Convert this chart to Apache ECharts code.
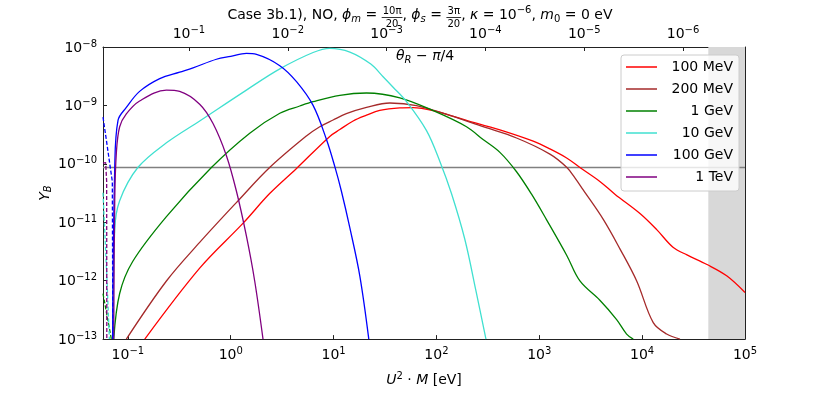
<!DOCTYPE html>
<html>
<head>
    <meta charset="utf-8">
    <title>Case 3b.1) Y_B</title>
    <script src="https://cdn.jsdelivr.net/npm/echarts@6/dist/echarts.min.js"></script>
    <style>
        html, body { margin: 0; padding: 0; background: #fff; }
    </style>
</head>
<body>
    <div id="main" style="width: 831px;height:394px;"></div>
    <script type="text/javascript">
        var F = '"DejaVu Sans", sans-serif';

        // legend names
        var names = ['100 MeV', '200 MeV', '1 GeV', '10 GeV', '100 GeV', '1 TeV'];
        var colors = ['#ff0000', '#a52a2a', '#008000', '#40e0d0', '#0000ff', '#800080'];

        // U^2 M [eV]  vs  Y_B
        var mev100X = [0.146, 0.499, 1.32, 2.39, 4.36, 9.18, 11.5, 15.5, 20.9, 28.1, 44.1, 59.3, 92.9, 196, 414, 873, 1268, 1845, 2483, 3881, 5433, 9527, 13930, 19950, 27290, 42690, 66830, 100000];
        var mev100Y = [1e-13, 1.64e-12, 9.66e-12, 3.1e-11, 8.34e-11, 2.95e-10, 3.86e-10, 5.42e-10, 6.81e-10, 8.24e-10, 9.1e-10, 9.2e-10, 8.14e-10, 5.57e-10, 3.81e-10, 2.44e-10, 1.8e-10, 1.26e-10, 8.65e-11, 5.0e-11, 3.02e-11, 1.41e-11, 7.41e-12, 3.74e-12, 2.76e-12, 1.89e-12, 1.2e-12, 6.27e-13];

        var mev200X = [0.0966, 0.237, 0.499, 1.18, 2.39, 5.44, 7.34, 9.89, 13.3, 20.9, 35.2, 64.0, 135, 284, 601, 1268, 1845, 2220, 2673, 4188, 6081, 8851, 12820, 17310, 23330];
        var mev200Y = [1e-13, 9.88e-13, 4.52e-12, 2.34e-11, 8.65e-11, 3.0e-10, 4.32e-10, 5.63e-10, 7.21e-10, 9.23e-10, 1.1e-9, 9.95e-10, 6.73e-10, 4.32e-10, 2.77e-10, 1.47e-10, 8.75e-11, 5.77e-11, 3.58e-11, 1.12e-11, 3.51e-12, 9.88e-13, 1.91e-13, 1.22e-13, 1e-13];

        var gev1X = [0.0728, 0.0832, 0.111, 0.237, 0.649, 1.53, 3.0, 4.69, 6.32, 11.5, 20.9, 44.1, 92.9, 196, 284, 414, 601, 841, 1178, 1845, 2483, 3881, 5649, 7063, 8188];
        var gev1Y = [1e-13, 6.04e-13, 2.11e-12, 1.25e-11, 8.65e-11, 3.35e-10, 7.35e-10, 9.77e-10, 1.16e-9, 1.49e-9, 1.63e-9, 1.35e-9, 8.14e-10, 4.32e-10, 2.61e-10, 1.57e-10, 7.32e-11, 3.02e-11, 1.1e-11, 2.73e-12, 9.88e-13, 4.62e-13, 2.16e-13, 1.22e-13, 1e-13];

        var gev10X = [0.0718, 0.0745, 0.0832, 0.125, 0.237, 0.499, 1.42, 3.0, 6.32, 9.18, 14.4, 23.0, 30.3, 37.9, 51.2, 80.1, 108, 140, 189, 242, 303];
        var gev10Y = [1e-13, 7.5e-12, 2.34e-11, 8.65e-11, 2.29e-10, 5.42e-10, 1.83e-9, 4.22e-9, 8.05e-9, 9.5e-9, 8.2e-9, 5.1e-9, 3.1e-9, 2.05e-9, 1.16e-9, 3.7e-10, 1.1e-10, 3.1e-11, 5.07e-12, 6.76e-13, 1e-13];

        var gev100X = [0.0711, 0.0745, 0.0802, 0.0966, 0.130, 0.204, 0.319, 0.43, 0.726, 1.0, 1.42, 1.78, 3.0, 4.36, 6.32, 8.53, 10.3, 11.9, 14.4, 18.0, 22.0];
        var gev100Y = [1e-13, 8.43e-11, 5.57e-10, 9.23e-10, 1.74e-9, 2.88e-9, 3.72e-9, 4.4e-9, 6.17e-9, 6.9e-9, 7.75e-9, 7.46e-9, 4.79e-9, 2.55e-9, 1.0e-9, 2.61e-10, 8.85e-11, 3.43e-11, 8e-12, 1.2e-12, 1e-13];

        var tev1X = [0.0728, 0.0745, 0.0773, 0.0832, 0.0966, 0.130, 0.237, 0.319, 0.499, 0.673, 0.908, 1.135, 1.42, 1.71, 2.06];
        var tev1Y = [1e-13, 2.34e-11, 1.57e-10, 4.32e-10, 7.16e-10, 1.19e-9, 1.83e-9, 1.74e-9, 1.05e-9, 4.9e-10, 1.38e-10, 3.43e-11, 5.83e-12, 9.88e-13, 1e-13];

        // dashed branches at the left edge
        var gev100DashX = [0.0573, 0.0622, 0.0665, 0.0706, 0.0714];
        var gev100DashY = [6.3e-10, 2.36e-10, 1.03e-10, 5e-11, 1e-13];
        var tev1DashX = [0.0573, 0.0608, 0.0622, 0.0624];
        var tev1DashY = [1.03e-10, 1.05e-10, 5e-11, 1e-13];
        var gev10DashX = [0.0573, 0.0622, 0.0661];
        var gev10DashY = [3.2e-11, 1.4e-12, 1e-13];
        var gev1DashX = [0.0573, 0.0691];
        var gev1DashY = [6e-13, 1e-13];

        // reference lines / ranges
        var observedYB = 8.65e-11;
        var shadeFrom = 4.4e4, shadeTo = 1e5;
        var xMin = 0.0573, xMax = 1e5;
        var yMin = 1e-13, yMax = 1e-8;
        var thetaMin = 2.36e-7, thetaMax = 0.741;

        function zip(xs, ys) {
            return xs.map(function (x, i) { return [x, ys[i]]; });
        }

        function powLabel(v) {
            var l = Math.log10(v);
            var e = Math.round(l);
            if (Math.abs(l - e) > 1e-6) return '';
            return '{b|10}{sup|' + (e < 0 ? '\u2212' + (-e) : e) + '}';
        }
        var powRich = {
            b: { fontSize: 14, fontFamily: F, color: '#000', lineHeight: 16, verticalAlign: 'bottom' },
            sup: { fontSize: 10, fontFamily: F, color: '#000', lineHeight: 10, verticalAlign: 'top', padding: [0, 0, 10, 0] }
        };

        // inline math-like text made of several pieces
        var measureCtx = document.createElement('canvas').getContext('2d');
        function textW(t, size, italic) {
            measureCtx.font = (italic ? 'italic ' : '') + size + 'px "DejaVu Sans"';
            return measureCtx.measureText(t).width;
        }
        function inlineText(pieces, x0, yMid, center) {
            var widths = pieces.map(function (p) {
                if (p.frac) return Math.max(textW(p.frac[0], 10), textW(p.frac[1], 10)) + 2;
                return textW(p.t, p.s || 14, p.i);
            });
            var total = widths.reduce(function (a, b) { return a + b; }, 0);
            var x = center ? x0 - total / 2 : x0;
            var els = [];
            pieces.forEach(function (p, k) {
                var w = widths[k];
                if (p.frac) {
                    els.push({ type: 'text', x: x + w / 2, y: yMid - 4, style: { text: p.frac[0], font: '10px ' + F, fill: '#000', align: 'center', verticalAlign: 'middle' } });
                    els.push({ type: 'text', x: x + w / 2, y: yMid + 9, style: { text: p.frac[1], font: '10px ' + F, fill: '#000', align: 'center', verticalAlign: 'middle' } });
                    els.push({ type: 'line', shape: { x1: x, y1: yMid + 2.5, x2: x + w, y2: yMid + 2.5 }, style: { stroke: '#000', lineWidth: 0.8 } });
                } else {
                    els.push({ type: 'text', x: x, y: yMid + (p.dy || 0), style: { text: p.t, font: (p.i ? 'italic ' : '') + (p.s || 14) + 'px ' + F, fill: '#000', align: 'left', verticalAlign: 'middle' } });
                }
                x += w;
            });
            return els;
        }

        var titlePieces = [
            { t: 'Case 3b.1), NO, ' }, { t: '\u03d5', i: true }, { t: 'm', s: 10, i: true, dy: 4 }, { t: ' = ' },
            { frac: ['10\u03c0', '20'] }, { t: ', ' }, { t: '\u03d5', i: true }, { t: 's', s: 10, i: true, dy: 4 }, { t: ' = ' },
            { frac: ['3\u03c0', '20'] }, { t: ', ' }, { t: '\u03ba', i: true }, { t: ' = 10' }, { t: '\u22126', s: 10, dy: -5 },
            { t: ', ' }, { t: 'm', i: true }, { t: '0', s: 10, dy: 4 }, { t: ' = 0 eV' }
        ];
        var thetaPieces = [
            { t: '\u03b8', i: true }, { t: 'R', s: 10, i: true, dy: 4 }, { t: ' \u2212 ' }, { t: '\u03c0', i: true }, { t: '/4' }
        ];

        var axisLineStyle = { color: '#222', width: 1 };

        var solidSets = [
            [mev100X, mev100Y], [mev200X, mev200Y], [gev1X, gev1Y],
            [gev10X, gev10Y], [gev100X, gev100Y], [tev1X, tev1Y]
        ];
        var series = solidSets.map(function (s, k) {
            return {
                name: names[k], type: 'line', data: zip(s[0], s[1]),
                symbol: 'none', smooth: 0.35, z: 3,
                lineStyle: { color: colors[k], width: 1.3 },
                itemStyle: { color: colors[k] }
            };
        });
        var dashSets = [
            [gev1DashX, gev1DashY, 2], [gev10DashX, gev10DashY, 3],
            [gev100DashX, gev100DashY, 4], [tev1DashX, tev1DashY, 5]
        ];
        dashSets.forEach(function (s) {
            series.push({
                name: names[s[2]] + ' (neg)', type: 'line', data: zip(s[0], s[1]),
                symbol: 'none', z: 3,
                lineStyle: { color: colors[s[2]], width: 1.3, type: [4, 2] }
            });
        });
        // observed baryon asymmetry, drawn across the whole range
        series.push({
            name: 'observed', type: 'line', data: [[xMin, observedYB], [xMax, observedYB]],
            symbol: 'none', z: 2, silent: true,
            lineStyle: { color: '#808080', width: 1.3 }
        });
        // shaded region
        series.push({
            name: 'marks', type: 'line', data: [], z: 1, symbol: 'none',
            markArea: { silent: true, itemStyle: { color: '#d8d8d8' }, data: [[{ xAxis: shadeFrom }, { xAxis: shadeTo }]] }
        });

        var myChart = echarts.init(document.getElementById('main'));
        myChart.setOption({
            animation: false,
            backgroundColor: '#fff',
            grid: { left: 103, right: 86, top: 47, bottom: 44 },
            legend: {
                data: names, orient: 'vertical', left: 621, top: 55, icon: 'rect',
                padding: [5, 6, 7, 5], itemGap: 8, itemWidth: 31, itemHeight: 1.5,
                backgroundColor: 'rgba(255,255,255,0.8)', borderColor: '#cccccc', borderWidth: 1, borderRadius: 3,
                formatter: function (n) { return '{a|' + n + '}'; },
                textStyle: { fontFamily: F, fontSize: 14, color: '#000', rich: { a: { width: 71, align: 'right', lineHeight: 14, fontFamily: F, fontSize: 14, color: '#000' } } }
            },
            xAxis: [{
                type: 'log', logBase: 10, min: xMin, max: xMax, position: 'bottom',
                name: '{i|U}{sup|2}{n| \u00b7 }{i|M}{n| [eV]}', nameLocation: 'middle', nameGap: 26,
                nameTextStyle: { rich: {
                    i: { fontFamily: F, fontSize: 14, fontStyle: 'italic', color: '#000', lineHeight: 16, verticalAlign: 'bottom' },
                    n: { fontFamily: F, fontSize: 14, color: '#000', lineHeight: 16, verticalAlign: 'bottom' },
                    sup: { fontFamily: F, fontSize: 10, color: '#000', verticalAlign: 'top', lineHeight: 10, padding: [0, 0, 8, 0] }
                } },
                axisLine: { lineStyle: axisLineStyle },
                axisTick: { inside: true, length: 4, lineStyle: axisLineStyle },
                axisLabel: { formatter: powLabel, rich: powRich, margin: 7, showMinLabel: false },
                splitLine: { show: false }
            }, {
                type: 'log', logBase: 10, min: thetaMin, max: thetaMax, position: 'top', inverse: true,
                axisLine: { lineStyle: axisLineStyle },
                axisTick: { inside: true, length: 4, lineStyle: axisLineStyle },
                axisLabel: { formatter: powLabel, rich: powRich, margin: 6 },
                splitLine: { show: false }
            }],
            yAxis: [{
                type: 'log', logBase: 10, min: yMin, max: yMax, position: 'left',
                name: '{i|Y}{s|B}', nameLocation: 'middle', nameGap: 50, nameMoveOverlap: false,
                nameTextStyle: { rich: {
                    i: { fontFamily: F, fontSize: 14, fontStyle: 'italic', color: '#000' },
                    s: { fontFamily: F, fontSize: 10, fontStyle: 'italic', color: '#000', verticalAlign: 'bottom', padding: [6, 0, 0, 0] }
                } },
                axisLine: { lineStyle: axisLineStyle },
                axisTick: { inside: true, length: 4, lineStyle: axisLineStyle },
                axisLabel: { formatter: powLabel, rich: powRich, margin: 6 },
                splitLine: { show: false }
            }, {
                type: 'log', logBase: 10, min: yMin, max: yMax, position: 'right',
                axisLine: { lineStyle: axisLineStyle },
                axisTick: { show: false },
                axisLabel: { show: false },
                splitLine: { show: false }
            }],
            graphic: inlineText(titlePieces, 420, 15, true).concat(inlineText(thetaPieces, 396, 56, false)),
            series: series
        });
    </script>
</body>
</html>
